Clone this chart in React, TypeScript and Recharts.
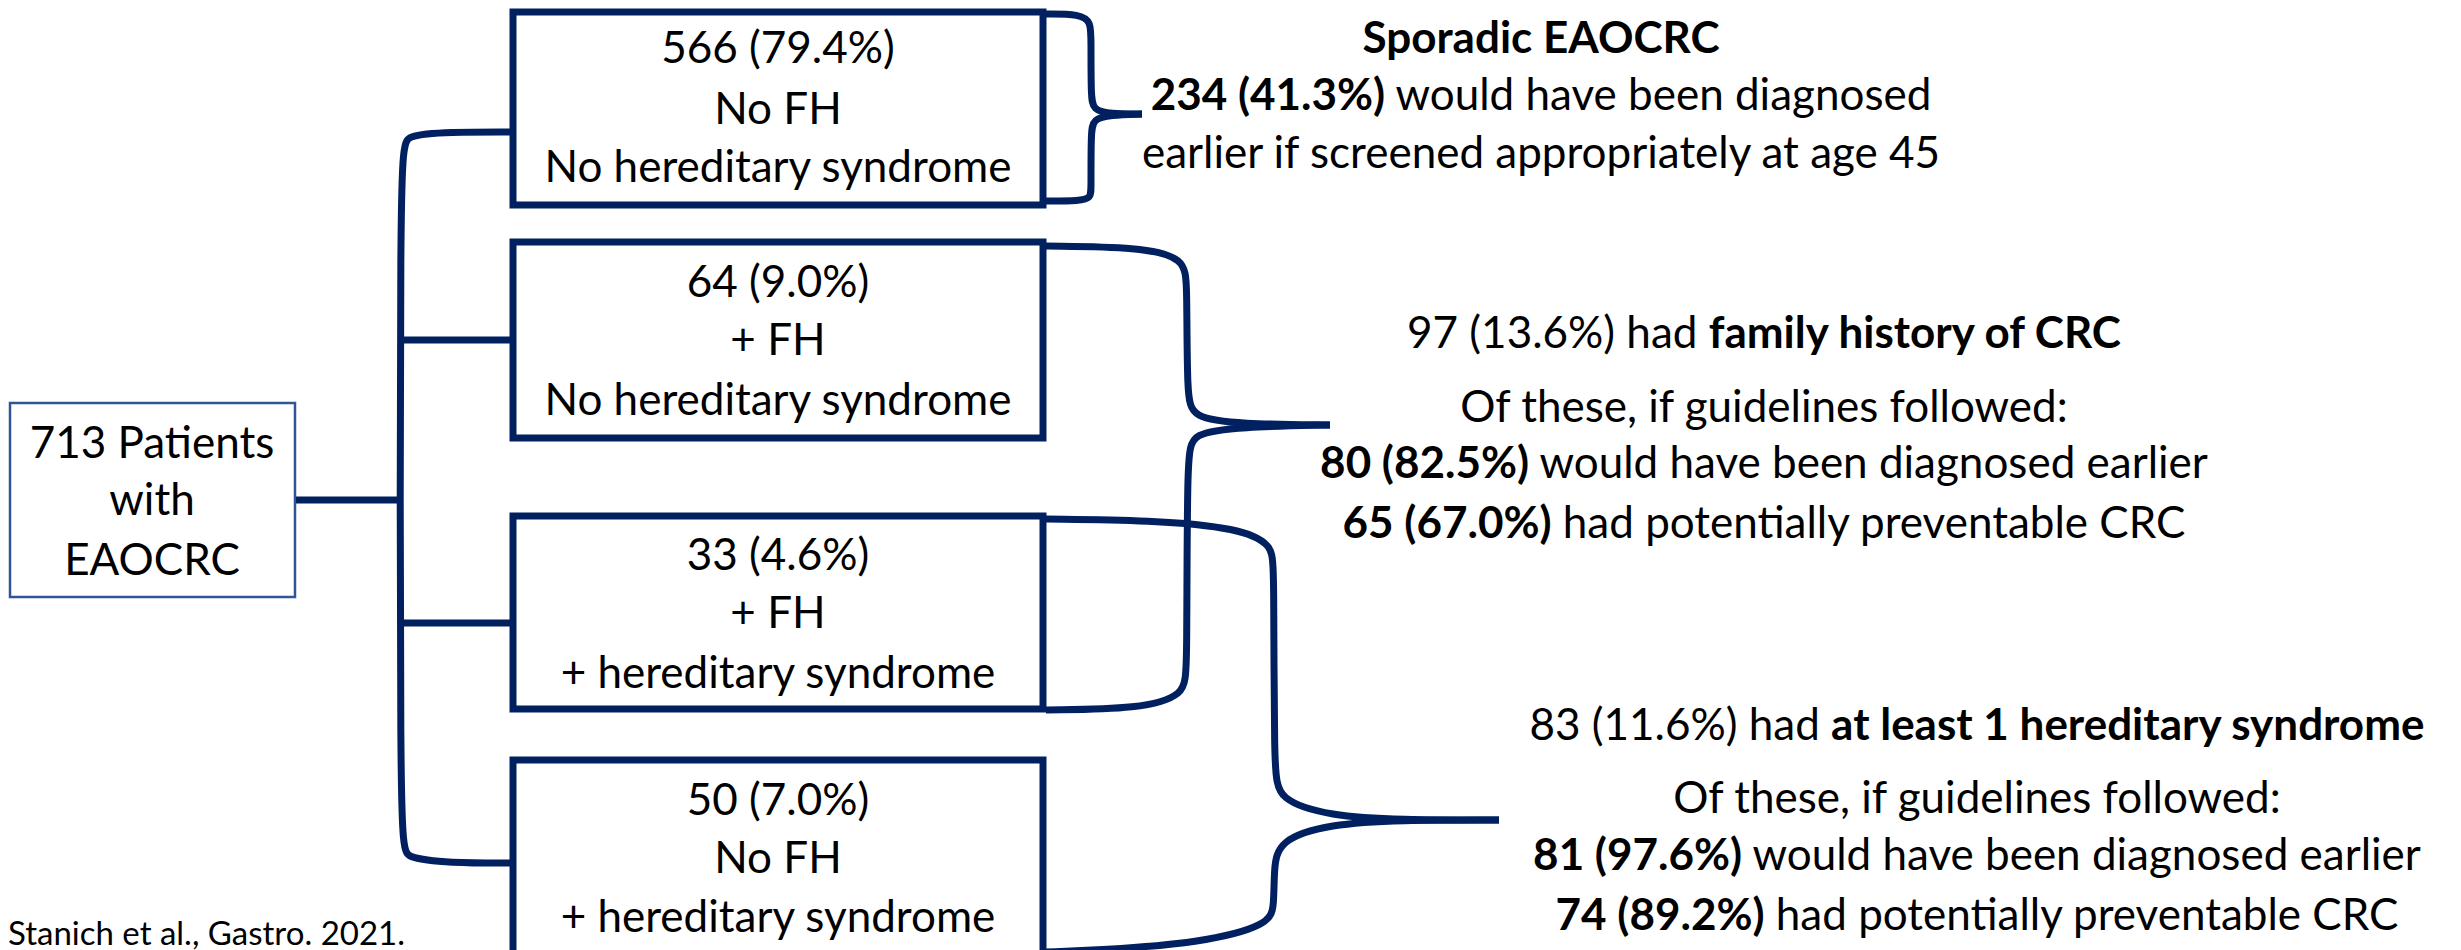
import React from "react";
import {
  ComposedChart,
  XAxis,
  YAxis,
  Line,
  Scatter,
  ReferenceArea,
} from "recharts";

const W = 2461;
const H = 950;
const NAVY = "#002060";
const FONT = "Lato, 'Open Sans', sans-serif";

// cohort split
const totalPatients = 713;
const groupCounts = [566, 64, 33, 50];
const groupPercents = ["79.4", "9.0", "4.6", "7.0"];
const fhStatus = ["No FH", "+ FH", "+ FH", "No FH"];
const syndromeStatus = [
  "No hereditary syndrome",
  "No hereditary syndrome",
  "+ hereditary syndrome",
  "+ hereditary syndrome",
];

// outcomes (sporadic, family history, hereditary syndrome)
const outcomeTotals = [97, 83];
const outcomeTotalPct = ["13.6", "11.6"];
const outcomeLabels = ["family history of CRC", "at least 1 hereditary syndrome"];
const earlierCounts = [234, 80, 81];
const earlierPct = ["41.3", "82.5", "97.6"];
const preventableCounts = [65, 74];
const preventablePct = ["67.0", "89.2"];
const citation = "Stanich et al., Gastro. 2021.";

// layout (pixel space of the diagram)
const BOX_L = 513;
const BOX_R = 1043;
const BOX_CX = 778;
const boxTops = [12, 242, 516, 760];
const boxBottoms = [205, 438, 709, 968];
const boxBaselines = [
  [63, 124, 182],
  [297, 355, 415],
  [570, 628, 688],
  [815, 873, 932],
];
const TEXT_SIZE = 44;

type Seg = { t: string; b?: boolean };
type Label = { x: number; y: number; segs: Seg[]; size?: number; anchor?: string };

const plain = (t: string): Seg[] => [{ t }];

const labels: Label[] = [];
groupCounts.forEach((n, i) => {
  const lines = [`${n} (${groupPercents[i]}%)`, fhStatus[i], syndromeStatus[i]];
  lines.forEach((t, j) => labels.push({ x: BOX_CX, y: boxBaselines[i][j], segs: plain(t) }));
});
labels.push({ x: 152, y: 458, segs: plain(`${totalPatients} Patients`) });
labels.push({ x: 152, y: 515, segs: plain("with") });
labels.push({ x: 152, y: 575, segs: plain("EAOCRC") });

// sporadic
labels.push({ x: 1541, y: 53, segs: [{ t: "Sporadic EAOCRC", b: true }] });
labels.push({
  x: 1541,
  y: 110,
  segs: [{ t: `${earlierCounts[0]} (${earlierPct[0]}%)`, b: true }, { t: " would have been diagnosed" }],
});
labels.push({ x: 1541, y: 168, segs: plain("earlier if screened appropriately at age 45") });

// family history / hereditary syndrome
const groupCx = [1764, 1977];
const groupBaselines = [
  [348, 422, 478, 538],
  [740, 813, 870, 930],
];
outcomeTotals.forEach((n, i) => {
  const cx = groupCx[i];
  const ys = groupBaselines[i];
  labels.push({
    x: cx,
    y: ys[0],
    segs: [{ t: `${n} (${outcomeTotalPct[i]}%) had ` }, { t: outcomeLabels[i], b: true }],
  });
  labels.push({ x: cx, y: ys[1], segs: plain("Of these, if guidelines followed:") });
  labels.push({
    x: cx,
    y: ys[2],
    segs: [
      { t: `${earlierCounts[i + 1]} (${earlierPct[i + 1]}%)`, b: true },
      { t: " would have been diagnosed earlier" },
    ],
  });
  labels.push({
    x: cx,
    y: ys[3],
    segs: [
      { t: `${preventableCounts[i]} (${preventablePct[i]}%)`, b: true },
      { t: " had potentially preventable CRC" },
    ],
  });
});
labels.push({ x: 405, y: 945, segs: plain(citation), size: 33, anchor: "end" });

// connector paths
const pts = (arr: number[][]) => arr.map(([x, y]) => ({ x, y }));
const treeLine = pts([
  [510, 132], [450, 132], [405, 135], [400, 150], [400, 845], [405, 858], [450, 863], [510, 863],
]);
const branches = [
  pts([[400, 340], [510, 340]]),
  pts([[400, 623], [510, 623]]),
  pts([[296, 500], [400, 500]]),
];
const braces = [
  pts([[1046, 14], [1080, 14], [1091, 22], [1091, 40], [1091, 96], [1093, 110], [1110, 114], [1142, 114]]),
  pts([[1142, 114], [1110, 115], [1093, 119], [1091, 133], [1091, 188], [1091, 198], [1080, 201], [1046, 201]]),
  pts([[1046, 246], [1140, 247], [1185, 258], [1187, 285], [1187, 395], [1192, 418], [1240, 424], [1330, 425]]),
  pts([[1330, 425], [1240, 427], [1192, 433], [1187, 455], [1187, 670], [1185, 695], [1140, 709], [1046, 710]]),
  pts([[1046, 519], [1150, 520], [1240, 528], [1272, 545], [1274, 565], [1274, 770], [1278, 800], [1330, 816], [1400, 820], [1499, 820]]),
  pts([[1499, 820], [1400, 820], [1330, 824], [1278, 840], [1274, 870], [1274, 905], [1270, 925], [1200, 943], [1100, 950], [1046, 952]]),
];

const TextMark = (props: any) => {
  const { cx, cy, payload } = props;
  return (
    <text
      x={cx}
      y={cy}
      textAnchor={payload.anchor ?? "middle"}
      fontFamily={FONT}
      fontSize={payload.size ?? TEXT_SIZE}
      fill="#000"
    >
      {payload.segs.map((s: Seg, i: number) => (
        <tspan key={i} fontWeight={s.b ? 700 : 400}>
          {s.t}
        </tspan>
      ))}
    </text>
  );
};

export default function App() {
  return (
    <div style={{ width: W, height: H, background: "#fff" }}>
      <style>{"body{margin:0}"}</style>
      <ComposedChart width={W} height={H} margin={{ top: 0, right: 0, bottom: 0, left: 0 }}>
        <XAxis type="number" dataKey="x" domain={[0, W]} hide allowDataOverflow />
        <YAxis type="number" dataKey="y" domain={[0, H]} reversed hide allowDataOverflow />
        <ReferenceArea
          x1={10}
          x2={295}
          y1={403}
          y2={597}
          fill="none"
          stroke="#2F5597"
          strokeWidth={2.5}
          ifOverflow="visible"
        />
        {boxTops.map((t, i) => (
          <ReferenceArea
            key={i}
            x1={BOX_L}
            x2={BOX_R}
            y1={t}
            y2={boxBottoms[i]}
            fill="none"
            stroke={NAVY}
            strokeWidth={7}
            ifOverflow="visible"
          />
        ))}
        <Line data={treeLine} dataKey="y" type="basis" stroke={NAVY} strokeWidth={7} dot={false} isAnimationActive={false} />
        {branches.map((b, i) => (
          <Line key={`b${i}`} data={b} dataKey="y" type="linear" stroke={NAVY} strokeWidth={7} dot={false} isAnimationActive={false} />
        ))}
        {braces.map((b, i) => (
          <Line key={`r${i}`} data={b} dataKey="y" type="basis" stroke={NAVY} strokeWidth={7} dot={false} isAnimationActive={false} />
        ))}
        <Scatter data={labels} dataKey="y" shape={TextMark} isAnimationActive={false} />
      </ComposedChart>
    </div>
  );
}
